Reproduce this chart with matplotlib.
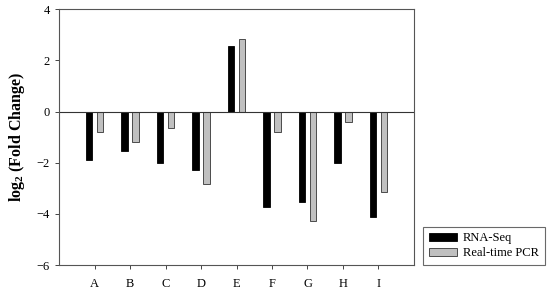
import matplotlib
matplotlib.use("Agg")
import matplotlib.pyplot as plt
import numpy as np

categories = ["A", "B", "C", "D", "E", "F", "G", "H", "I"]
rna_seq = [-1.91, -1.55, -2.02, -2.27, 2.57, -3.74, -3.52, -2.00, -4.13]
rt_pcr = [-0.78, -1.18, -0.63, -2.83, 2.85, -0.79, -4.26, -0.39, -3.16]
yticks = [-6, -4, -2, 0, 2, 4]

plt.rcParams['font.family'] = ['Liberation Serif', 'DejaVu Serif']
plt.rcParams['mathtext.fontset'] = 'custom'
plt.rcParams['mathtext.rm'] = 'Liberation Serif'
plt.rcParams['mathtext.bf'] = 'Liberation Serif:bold'

fig = plt.figure(figsize=(5.5, 2.91), dpi=100)
ax = fig.add_axes([0.1073, 0.0893, 0.6454, 0.8787])

x = np.arange(1, len(categories) + 1)
w = 0.19
off = 0.155
b1 = ax.bar(x - off, rna_seq, w, color='black', edgecolor='black', linewidth=0.6, label='RNA-Seq')
b2 = ax.bar(x + off, rt_pcr, w, color='#c0c0c0', edgecolor='#333333', linewidth=0.6, label='Real-time PCR')
ax.axhline(0, color='#333333', linewidth=0.8)

ax.set_xlim(0, 10)
ax.set_ylim(-6, 4)
ax.set_xticks(x)
ax.set_xticklabels(categories)
ax.set_yticks(yticks)
ax.set_yticklabels([str(t) if t >= 0 else '\u2212' + str(-t) for t in yticks])
ax.tick_params(axis='both', labelsize=9, length=3, width=0.7, color='#444444', direction='out')
ax.tick_params(axis='x', pad=6)
for s in ax.spines.values():
    s.set_color('#555555')
    s.set_linewidth(0.8)

ax.set_ylabel(r'$\mathbf{log_2}$ (Fold Change)', fontsize=11.5, fontweight='bold', labelpad=7)

leg = fig.legend(handles=[b1, b2], labels=['RNA-Seq', 'Real-time PCR'],
                 loc='lower left', bbox_to_anchor=(423/550, 1-265/291),
                 fontsize=9, frameon=True, fancybox=False, edgecolor='#444444',
                 handlelength=2.3, handleheight=0.7, borderpad=0.45, labelspacing=0.25,
                 handletextpad=0.45, borderaxespad=0)
leg.get_frame().set_linewidth(0.8)

fig.savefig('out.png', dpi=100)
